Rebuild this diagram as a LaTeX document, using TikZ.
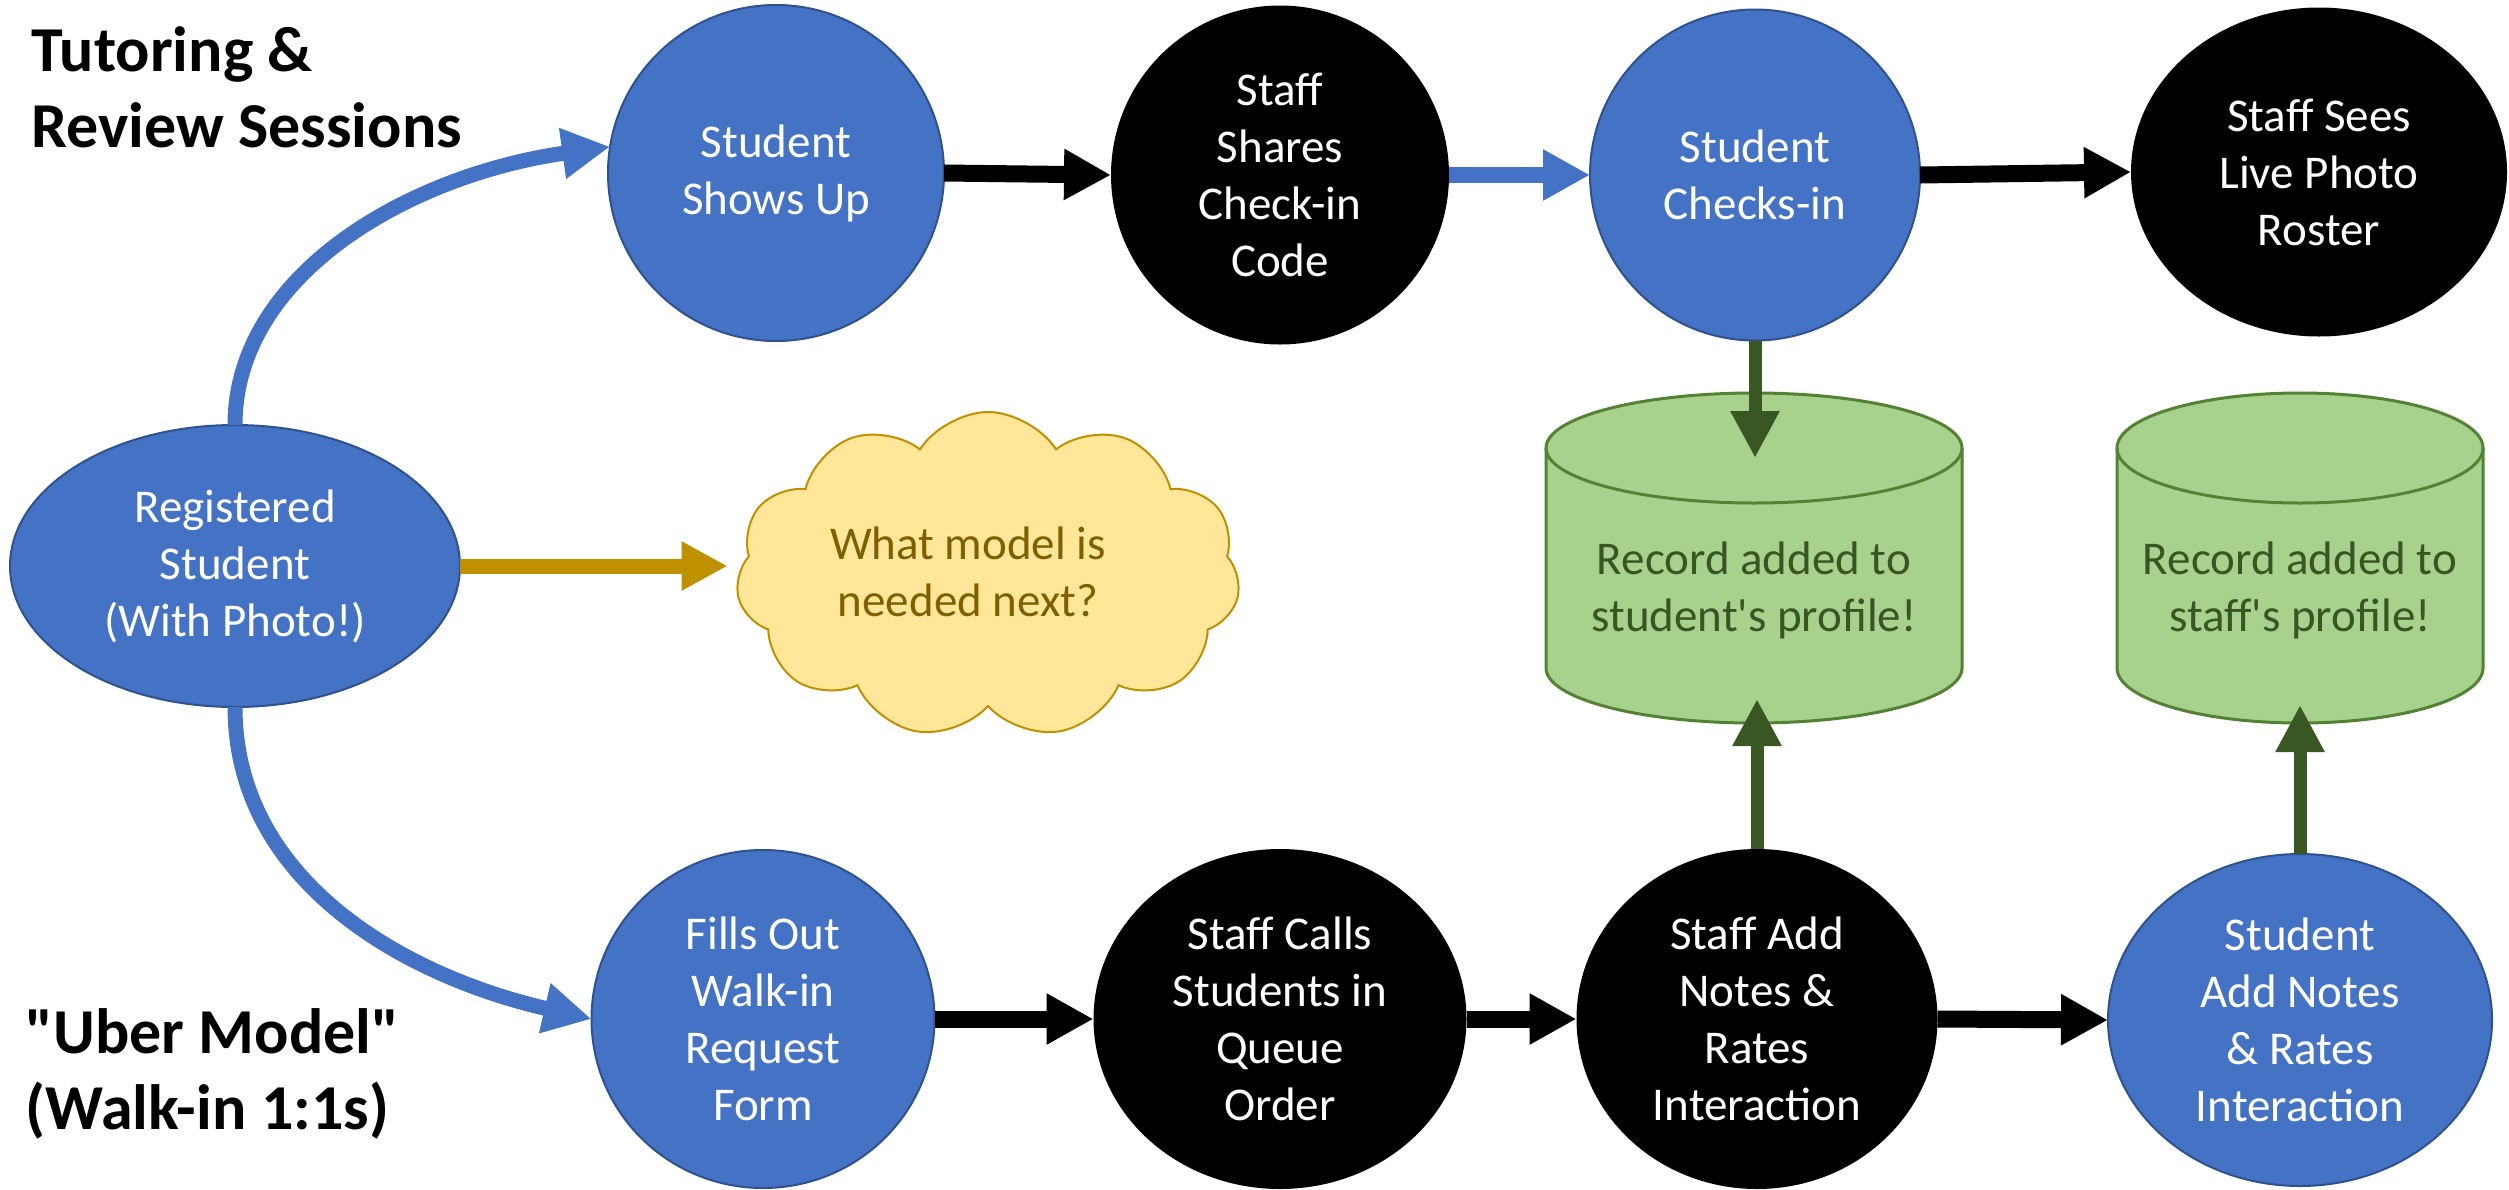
\documentclass[tikz,border=0pt]{standalone}
\usepackage{fontspec}
\newfontfamily\carlito{Carlito}
\usetikzlibrary{shapes.geometric,shapes.symbols,arrows.meta}
\definecolor{nodeblue}{HTML}{4472C4}
\definecolor{nodeblueedge}{HTML}{2F528F}
\definecolor{cylfill}{HTML}{A9D18E}
\definecolor{cyledge}{HTML}{548235}
\definecolor{cyltext}{HTML}{375623}
\definecolor{greenarrow}{HTML}{385723}
\definecolor{goldarrow}{HTML}{BF9000}
\definecolor{cloudfill}{HTML}{FFE699}
\definecolor{cloudtext}{HTML}{7F6000}
\newcommand{\nodefont}{\carlito\fontsize{23.5pt}{28.5pt}\selectfont}
\newcommand{\titlefont}{\carlito\fontsize{32pt}{38pt}\selectfont\bfseries}
\begin{document}
\begin{tikzpicture}[x=0.5pt,y=0.5pt,
  proc/.style={ellipse, inner sep=0pt, outer sep=0pt, align=center, font=\nodefont},
  stu/.style={proc, fill=nodeblue, draw=nodeblueedge, line width=1pt, text=white},
  stf/.style={proc, fill=black, text=white},
  titletext/.style={font=\titlefont, align=left, inner sep=0pt, anchor=north west},
  blackflow/.style={draw=black, line width=8.5pt, -{Triangle[length=23.5pt,width=24pt]}},
  blueflow/.style={draw=nodeblue, line width=8pt, -{Triangle[length=23.5pt,width=24pt]}},
  bluecurve/.style={draw=nodeblue, line width=7.5pt, -{Triangle[length=24pt,width=24pt]}},
  goldflow/.style={draw=goldarrow, line width=7.5pt, -{Triangle[length=23pt,width=23pt]}},
  greenflow/.style={draw=greenarrow, line width=6.5pt, -{Triangle[length=23.5pt,width=23pt]}},
  cylbody/.style={fill=cylfill, draw=cyledge, line width=1.5pt},
  cyllabel/.style={font=\nodefont, text=cyltext, align=center, inner sep=0pt},
  cloudbox/.style={cloud, cloud puffs=11, cloud puff arc=115, aspect=1.5, fill=cloudfill, draw=goldarrow, line width=1pt, inner sep=0pt},
]
\useasboundingbox (0,0) rectangle (2509,-1189);
\fill[white] (0,0) rectangle (2509,-1189);

% titles
\node[titletext] (t1) at (31,-26) {Tutoring \&\\Review Sessions};
\node[titletext] (t2) at (25,-1008) {"Uber Model"\\(Walk-in 1:1s)};

% cylinders
\path[cylbody] (1546,-448) -- (1546,-668) arc[start angle=180, end angle=360, x radius=208, y radius=55] -- (1962,-448) arc[start angle=0, end angle=180, x radius=208, y radius=55] -- cycle;
\draw[cyledge, line width=1.5pt] (1546,-448) arc[start angle=180, end angle=360, x radius=208, y radius=55];
\path[cylbody] (2117,-448) -- (2117,-668) arc[start angle=180, end angle=360, x radius=183, y radius=55] -- (2483,-448) arc[start angle=0, end angle=180, x radius=183, y radius=55] -- cycle;
\draw[cyledge, line width=1.5pt] (2117,-448) arc[start angle=180, end angle=360, x radius=183, y radius=55];
\node[cyllabel] (cylA) at (1754,-590) {Record added to\\student's profile!};
\node[cyllabel] (cylB) at (2300,-590) {Record added to\\staff's profile!};
\coordinate (cylAin) at (1755,-458);
\coordinate (cylAout) at (1757,-699);
\coordinate (cylBout) at (2300,-705);

% cloud
\node[cloudbox, minimum width=252pt, minimum height=163pt] (cloud) at (988,-575) {};
\node[font=\nodefont, text=cloudtext, align=center, inner sep=0pt] (cloudtxt) at (968,-572) {What model is\\needed next?};

% nodes
\node[stu, minimum width=225pt, minimum height=141pt] (reg) at (235,-566) {Registered\\Student\\(With Photo!)};
\node[stu, minimum width=168pt, minimum height=168pt] (shows) at (776,-173) {Student\\Shows Up};
\node[stf, minimum width=169pt, minimum height=169.5pt] (shares) at (1280,-175) {Staff\\Shares\\Check-in\\Code};
\node[stu, minimum width=165pt, minimum height=165.5pt] (checks) at (1755,-175) {Student\\Checks-in};
\node[stf, minimum width=188pt, minimum height=164.5pt] (sees) at (2319,-172) {Staff Sees\\Live Photo\\Roster};
\node[stu, minimum width=171.5pt, minimum height=169pt] (fills) at (763,-1019) {Fills Out\\Walk-in\\Request\\Form};
\node[stf, minimum width=186.5pt, minimum height=170pt] (calls) at (1280,-1019) {Staff Calls\\Students in\\Queue\\Order};
\node[stf, minimum width=180.5pt, minimum height=170pt] (addnotes) at (1757,-1019) {Staff Add\\Notes \&\\Rates\\Interaction};
\node[stu, minimum width=192pt, minimum height=166pt] (stuadd) at (2300,-1020) {Student\\Add Notes\\\& Rates\\Interaction};

% connectors
\draw[bluecurve] (reg.north) to[out=90, in=188, out distance=76pt, in distance=100pt] (shows.171);
\draw[bluecurve] (reg.south) to[out=-90, in=167, out distance=86pt, in distance=98pt] (fills.west);
\draw[goldflow, shorten >=5pt] (reg.east) -- (reg.east -| cloud.west);
\draw[blackflow] (shows.east) -- (shares.west);
\draw[blueflow] (shares.east) -- (checks.west);
\draw[blackflow] (checks.east) -- (sees.west);
\draw[blackflow] (fills.east) -- (calls.west);
\draw[blackflow] (calls.east) -- (addnotes.west);
\draw[blackflow] (addnotes.east) -- (stuadd.west);
\draw[greenflow] (checks.south) -- (cylAin);
\draw[greenflow] (addnotes.north) -- (cylAout);
\draw[greenflow] (stuadd.north) -- (cylBout);
\end{tikzpicture}
\end{document}
